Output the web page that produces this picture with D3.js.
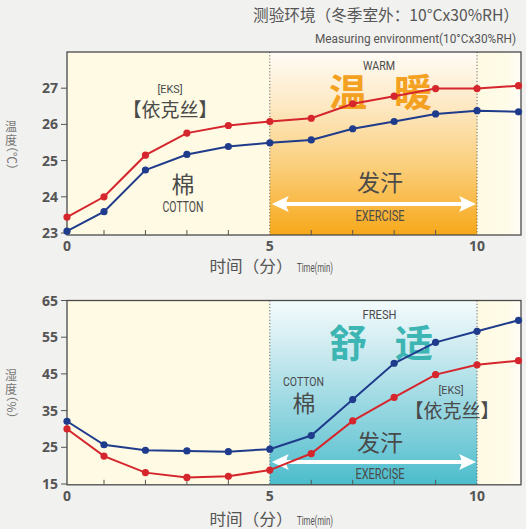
<!DOCTYPE html>
<html>
<head>
<meta charset="utf-8">
<script src="https://cdn.jsdelivr.net/npm/d3@7/dist/d3.min.js"></script>
<style>
  html, body { margin: 0; padding: 0; background: #f1f1ef; }
  svg { display: block; }
  .cjk { font-family: "Noto Sans CJK SC", "Noto Sans", sans-serif; }
  .narrow { font-family: "Liberation Sans Narrow", "Roboto", "DejaVu Sans Condensed", sans-serif; }
  .num { font-family: "Noto Sans", "Open Sans", sans-serif; font-weight: 700; }
</style>
</head>
<body>
<svg id="chart" width="526" height="529"></svg>
<script>
// ---------------- data ----------------
const minutes = [0, 1, 2, 3, 4, 5, 6, 7, 8, 9, 10, 11];
const tempEKS    = [23.44, 24.0, 25.15, 25.76, 25.97, 26.08, 26.17, 26.57, 26.78, 26.99, 26.99, 27.07];
const tempCotton = [23.05, 23.59, 24.74, 25.17, 25.39, 25.49, 25.57, 25.88, 26.08, 26.29, 26.38, 26.35];
const humEKS     = [30.0, 22.6, 18.1, 16.8, 17.1, 18.8, 23.3, 32.2, 38.6, 44.8, 47.5, 48.6];
const humCotton  = [32.1, 25.7, 24.2, 24.0, 23.8, 24.5, 28.2, 38.0, 47.9, 53.6, 56.6, 59.6];
const tempTicks = [23, 24, 25, 26, 27];
const humTicks  = [15, 25, 35, 45, 55, 65];
const xTickLabels = [0, 5, 10];
const exercisePeriod = [5, 10];

const RED = "#d6262d", BLUE = "#1f3b8c", TXT = "#4a4a4a", AX = "#555";

const svg = d3.select("#chart");
const defs = svg.append("defs");

// gradients
const gOr = defs.append("linearGradient").attr("id", "gOrange").attr("x1", 0).attr("y1", 0).attr("x2", 0).attr("y2", 1);
[[0, "#fffcf6"], [0.3, "#fde8c2"], [0.62, "#fbcf7c"], [1, "#f7a81a"]].forEach(([o, c]) => gOr.append("stop").attr("offset", o).attr("stop-color", c));
const gTe = defs.append("linearGradient").attr("id", "gTeal").attr("x1", 0).attr("y1", 0).attr("x2", 0).attr("y2", 1);
[[0, "#f4fbfc"], [0.25, "#cfecf1"], [0.5, "#a5dce5"], [0.75, "#7bcdd9"], [1, "#4bbccb"]].forEach(([o, c]) => gTe.append("stop").attr("offset", o).attr("stop-color", c));
const gCr = defs.append("linearGradient").attr("id", "gCream").attr("x1", 0).attr("y1", 0).attr("x2", 1).attr("y2", 0);
[[0, "#fefae3"], [0.7, "#fefbe8"], [1, "#fffef6"]].forEach(([o, c]) => gCr.append("stop").attr("offset", o).attr("stop-color", c));

const x = d3.scaleLinear().domain([0, 1, 11]).range([67, 104, 518.5]);
const plotLeft = 67, plotRight = 521;

// titles
svg.append("text").attr("class", "cjk").attr("x", 519).attr("y", 15).attr("dy", "0.36em")
  .attr("text-anchor", "end").attr("font-size", 16).attr("fill", "#555")
  .attr("textLength", 266).attr("lengthAdjust", "spacingAndGlyphs")
  .text("测验环境（冬季室外：10°Cx30%RH）");
svg.append("text").attr("class", "narrow").attr("x", 516).attr("y", 38).attr("dy", "0.36em")
  .attr("text-anchor", "end").attr("font-size", 12.5).attr("fill", "#555")
  .attr("textLength", 201).attr("lengthAdjust", "spacingAndGlyphs")
  .text("Measuring environment(10°Cx30%RH)");

function narrowText(g, tx, ty, str, size, len) {
  g.append("text").attr("class", "narrow").attr("x", tx).attr("y", ty).attr("dy", "0.36em")
    .attr("text-anchor", "middle").attr("font-size", size).attr("fill", TXT)
    .attr("textLength", len).attr("lengthAdjust", "spacingAndGlyphs").text(str);
}
function cjkText(g, tx, ty, str, size, fill, weight) {
  return g.append("text").attr("class", "cjk").attr("x", tx).attr("y", ty).attr("dy", "0.36em")
    .attr("text-anchor", "middle").attr("font-size", size).attr("fill", fill || TXT)
    .attr("font-weight", weight || 400).text(str);
}

function panel(cfg) {
  const y = d3.scaleLinear().domain(cfg.domain).range(cfg.range);
  const g = svg.append("g");
  const top = cfg.range[1], bottom = cfg.range[0] + cfg.pad;
  const x5 = x(exercisePeriod[0]), x10 = x(exercisePeriod[1]);

  // backgrounds
  g.append("rect").attr("x", plotLeft).attr("y", top).attr("width", x5 - plotLeft).attr("height", bottom - top).attr("fill", "#fefae3");
  g.append("rect").attr("x", x5).attr("y", top).attr("width", x10 - x5).attr("height", bottom - top).attr("fill", cfg.grad);
  g.append("rect").attr("x", x10).attr("y", top).attr("width", plotRight - x10).attr("height", bottom - top).attr("fill", "url(#gCream)");

  // dotted lines
  exercisePeriod.forEach(v => g.append("line").attr("x1", x(v)).attr("x2", x(v)).attr("y1", top).attr("y2", bottom)
    .attr("stroke", "#666").attr("stroke-width", 1).attr("stroke-dasharray", "1.2,2"));

  // x ticks (inside, upward)
  minutes.filter(m => m > 0 && m < 11 && !exercisePeriod.includes(m)).forEach(m =>
    g.append("line").attr("x1", x(m)).attr("x2", x(m)).attr("y1", bottom - 5).attr("y2", bottom).attr("stroke", AX).attr("stroke-width", 1));

  // frame
  g.append("rect").attr("x", plotLeft).attr("y", top).attr("width", plotRight - plotLeft).attr("height", bottom - top)
    .attr("fill", "none").attr("stroke", "#4a4a4a").attr("stroke-width", 1.3);

  // y ticks & labels
  cfg.ticks.forEach(t => {
    g.append("line").attr("x1", plotLeft - 6).attr("x2", plotLeft).attr("y1", y(t)).attr("y2", y(t)).attr("stroke", AX).attr("stroke-width", 1);
    g.append("text").attr("class", "num").attr("x", 58).attr("y", y(t)).attr("dy", "0.36em").attr("text-anchor", "end")
      .attr("font-size", 14).attr("fill", "#555").text(t);
  });
  // x labels
  xTickLabels.forEach(t => g.append("text").attr("class", "num").attr("x", x(t)).attr("y", bottom + 11).attr("dy", "0.36em")
    .attr("text-anchor", "middle").attr("font-size", 14).attr("fill", "#555").text(t));

  // axis titles
  g.append("text").attr("class", "cjk").attr("x", 251).attr("y", cfg.xTitleY).attr("dy", "0.36em").attr("text-anchor", "middle")
    .attr("font-size", 16).attr("fill", "#555").attr("textLength", 83).attr("lengthAdjust", "spacingAndGlyphs").text("时间（分）");
  g.append("text").attr("class", "narrow").attr("x", 297).attr("y", cfg.xTitleY + 1).attr("dy", "0.36em").attr("text-anchor", "start")
    .attr("font-size", 13.5).attr("fill", "#555").attr("textLength", 36).attr("lengthAdjust", "spacingAndGlyphs").text("Time(min)");
  // vertical y title: stacked characters then rotated unit
  const yt = cfg.yTitle;
  g.append("text").attr("class", "cjk").attr("x", 11).attr("y", cfg.yTitleY).attr("dy", "0.36em").attr("text-anchor", "middle")
    .attr("font-size", 12).attr("fill", "#777").text(yt[0]);
  g.append("text").attr("class", "cjk").attr("x", 11).attr("y", cfg.yTitleY + 14).attr("dy", "0.36em").attr("text-anchor", "middle")
    .attr("font-size", 12).attr("fill", "#777").text(yt[1]);
  g.append("text").attr("class", "cjk").attr("transform", `translate(11,${cfg.yTitleY + 31}) rotate(90)`)
    .attr("dy", "0.36em").attr("text-anchor", "middle")
    .attr("font-size", 12).attr("fill", "#777").text(yt.slice(2));

  // annotations
  cfg.annot(g, y);

  // exercise arrow
  const ay = cfg.arrowY;
  g.append("line").attr("x1", x5 + 10).attr("x2", x10 - 10).attr("y1", ay).attr("y2", ay).attr("stroke", "#fff").attr("stroke-width", 4);
  const head = (tip, dir) => `M${tip},${ay} L${tip + dir * 17},${ay - 8} Q${tip + dir * 12},${ay} ${tip + dir * 17},${ay + 8} Z`;
  g.append("path").attr("d", head(x5 + 2, 1)).attr("fill", "#fff");
  g.append("path").attr("d", head(x10 - 1, -1)).attr("fill", "#fff");
  narrowText(g, 380, ay + 12, "EXERCISE", 14, 49);

  // lines
  const line = d3.line().x((d, i) => x(minutes[i])).y(d => y(d));
  [[cfg.cotton, BLUE], [cfg.eks, RED]].forEach(([vals, col]) => {
    g.append("path").datum(vals).attr("d", line).attr("fill", "none").attr("stroke", col).attr("stroke-width", 2);
    g.selectAll(null).data(vals).enter().append("circle")
      .attr("cx", (d, i) => x(minutes[i])).attr("cy", d => y(d)).attr("r", 3.6).attr("fill", col);
  });
}

panel({
  domain: [23, 28], range: [233, 52], pad: 2, ticks: tempTicks,
  eks: tempEKS, cotton: tempCotton, grad: "url(#gOrange)",
  xTitleY: 266, yTitle: "温度（℃）", yTitleY: 127, arrowY: 204,
  annot: (g) => {
    narrowText(g, 379, 65, "WARM", 13, 32);
    cjkText(g, 348, 92, "温", 38, "#f4a020", 700);
    cjkText(g, 413, 92, "暖", 38, "#f4a020", 700);
    narrowText(g, 170, 89, "[EKS]", 11, 25);
    cjkText(g, 170, 110, "【依克丝】", 19);
    cjkText(g, 183, 185, "棉", 23);
    narrowText(g, 183, 207, "COTTON", 14, 41);
    cjkText(g, 380, 183, "发汗", 23);
  }
});

panel({
  domain: [15, 65], range: [484, 300.5], pad: 0.8, ticks: humTicks,
  eks: humEKS, cotton: humCotton, grad: "url(#gTeal)",
  xTitleY: 519, yTitle: "湿度（%）", yTitleY: 376, arrowY: 462,
  annot: (g) => {
    narrowText(g, 379.5, 314, "FRESH", 13, 34);
    cjkText(g, 348, 343, "舒", 38, "#3db5b3", 700);
    cjkText(g, 414, 343, "适", 38, "#3db5b3", 700);
    narrowText(g, 303.5, 381, "COTTON", 13.5, 41);
    cjkText(g, 304, 404, "棉", 23);
    narrowText(g, 451, 390, "[EKS]", 11, 25);
    cjkText(g, 452, 411, "【依克丝】", 19);
    cjkText(g, 380, 443, "发汗", 23);
  }
});
</script>
</body>
</html>
